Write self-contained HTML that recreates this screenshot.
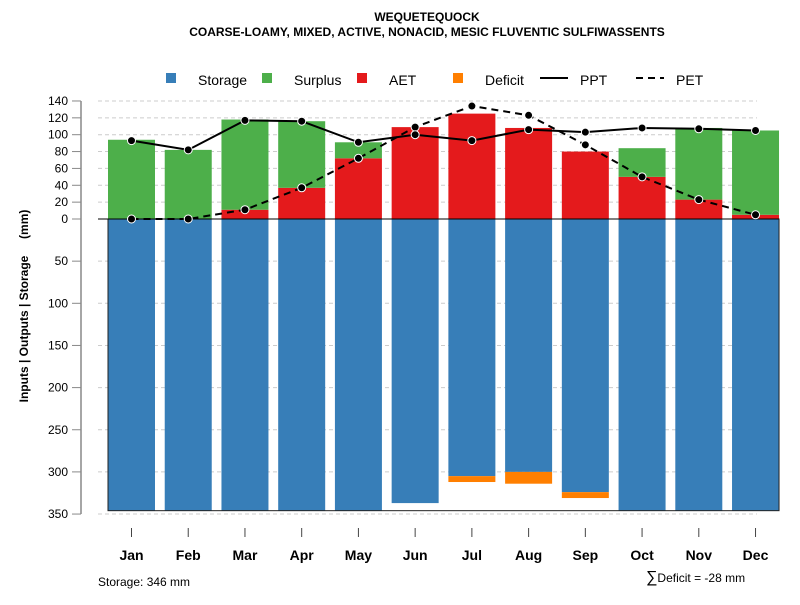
<!DOCTYPE html>
<html><head><meta charset="utf-8"><style>
body{margin:0;background:#fff}
svg{font-family:"Liberation Sans",Arial,sans-serif}
</style></head><body>
<svg id="c" width="800" height="600" viewBox="0 0 800 600" xmlns="http://www.w3.org/2000/svg">
<text x="427" y="21" text-anchor="middle" font-size="12" font-weight="bold">WEQUETEQUOCK</text>
<text x="427" y="36" text-anchor="middle" font-size="12" font-weight="bold">COARSE-LOAMY, MIXED, ACTIVE, NONACID, MESIC FLUVENTIC SULFIWASSENTS</text>
<g font-size="14">
<rect x="166" y="73" width="10" height="10" fill="#377eb8"/>
<text x="198" y="85">Storage</text>
<rect x="262" y="73" width="10" height="10" fill="#4daf4a"/>
<text x="294" y="85">Surplus</text>
<rect x="357" y="73" width="10" height="10" fill="#e41a1c"/>
<text x="389" y="85">AET</text>
<rect x="453" y="73" width="10" height="10" fill="#ff7f00"/>
<text x="485" y="85">Deficit</text>
<line x1="540" y1="78" x2="568" y2="78" stroke="#000" stroke-width="2"/>
<text x="580" y="85">PPT</text>
<line x1="636" y1="78" x2="664" y2="78" stroke="#000" stroke-width="2" stroke-dasharray="7,5"/>
<text x="676" y="85">PET</text>
</g>
<text transform="translate(28,306) rotate(-90)" text-anchor="middle" font-size="12" font-weight="bold" style="white-space:pre" xml:space="preserve">Inputs | Outputs | Storage     (mm)</text>
<text x="98" y="586" font-size="12">Storage: 346 mm</text>
<text x="646" y="582" font-size="12"><tspan font-size="16">∑</tspan>Deficit = -28 mm</text>
</svg>
<script>
const months=["Jan","Feb","Mar","Apr","May","Jun","Jul","Aug","Sep","Oct","Nov","Dec"];
const aet=[0,0,11,37,72,109,125,108,80,50,23,5];
const surplus=[94,82,107,79,19,0,0,0,0,34,85,100];
const storage=[346,346,346,346,346,337,305,300,324,346,346,346];
const deficit=[0,0,0,0,0,0,7,14,7,0,0,0];
const ppt=[93,82,117,116,91,100,93,106,103,108,107,105];
const pet=[0,0,11,37,72,109,134,123,88,50,23,5];
const posTicks=[0,20,40,60,80,100,120,140];
const negTicks=[50,100,150,200,250,300,350];
const capacity=346;

const svg=document.getElementById('c');
const NS="http://www.w3.org/2000/svg";
const k=0.843, y0=219;
const y=v=>y0-v*k;
const xc=i=>131.5+i*56.73;
const bw=47;
function el(tag,attrs,parent){const e=document.createElementNS(NS,tag);for(const a in attrs)e.setAttribute(a,attrs[a]);(parent||svg).appendChild(e);return e;}

el('line',{x1:81,y1:y(140),x2:81,y2:y(-350),stroke:'#888','stroke-width':1.5});
posTicks.forEach(t=>{
  if(t>0){const g=el('line',{x1:98,y1:y(t),x2:757,y2:y(t),stroke:'#ccc','stroke-dasharray':'4,3'});
  
  }
  el('line',{x1:72,y1:y(t),x2:81,y2:y(t),stroke:'#888'});
  const tx=el('text',{x:68,y:y(t)+4,'text-anchor':'end','font-size':12});tx.textContent=t;
  
  
});
negTicks.forEach(t=>{
  const g=el('line',{x1:98,y1:y(-t),x2:757,y2:y(-t),stroke:'#ccc','stroke-dasharray':'4,3'});
  
  
  el('line',{x1:72,y1:y(-t),x2:81,y2:y(-t),stroke:'#888'});
  const tx=el('text',{x:68,y:y(-t)+4,'text-anchor':'end','font-size':12});tx.textContent=t;
  
  
});

months.forEach((m,i)=>{
  const x=xc(i)-bw/2;
  const s=el('rect',{x:x,y:y0,width:bw,height:storage[i]*k,fill:'#377eb8'});
  
  
  if(deficit[i]>0){
    const d=el('rect',{x:x,y:y(-storage[i]),width:bw,height:deficit[i]*k,fill:'#ff7f00'});
    
    
  }
  const a=el('rect',{x:x,y:y(aet[i]),width:bw,height:aet[i]*k,fill:'#e41a1c'});
  
  
  const su=el('rect',{x:x,y:y(aet[i]+surplus[i]),width:bw,height:surplus[i]*k,fill:'#4daf4a'});
  
  
  el('line',{x1:xc(i),y1:528,x2:xc(i),y2:537,stroke:'#444'});
  const t=el('text',{x:xc(i),y:560,'text-anchor':'middle','font-size':14,'font-weight':'bold'});t.textContent=m;
  
  
});
const box=el('rect',{x:xc(0)-bw/2,y:y0,width:xc(11)-xc(0)+bw,height:capacity*k,fill:'none',stroke:'#222','stroke-width':1});


el('line',{x1:98,y1:y0,x2:779,y2:y0,stroke:'#000'});

function series(vals,dash,name){
  const p=el('polyline',{points:vals.map((v,i)=>xc(i)+','+y(v)).join(' '),fill:'none',stroke:'#000','stroke-width':2,'stroke-dasharray':dash});
  
  
  vals.forEach((v,i)=>{
    const c=el('circle',{cx:xc(i),cy:y(v),r:4,fill:'#000',stroke:'#fff','stroke-width':1});
    
    
  });
}
series(pet,'7,5','pet');
series(ppt,'none','ppt');
</script>
</body></html>
